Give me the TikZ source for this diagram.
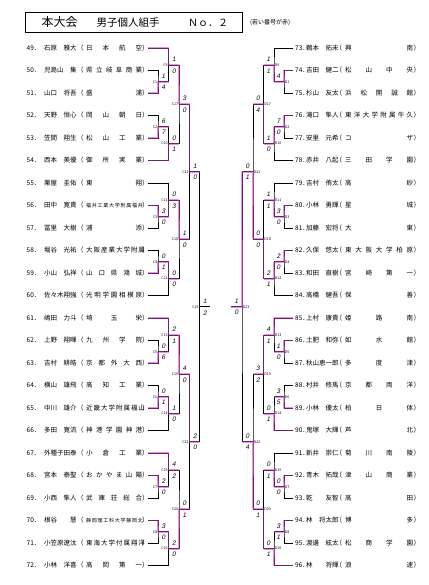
\documentclass[tikz,border=0pt]{standalone}
\usepackage{fontspec}
\setmainfont{Noto Sans CJK JP}
\newfontfamily\hwfont[FakeSlant=0.2]{Liberation Sans}
\usetikzlibrary{calc}
\definecolor{hlc}{RGB}{205,60,195}
\newcommand\rowfont{\fontsize{6.5}{7}\selectfont}
\newcommand\smallschool{\fontsize{5}{5}\selectfont}
\tikzset{
 ln/.style={line width=0.6pt, draw=black},
 hl/.style={line width=1.9pt, draw=hlc, draw opacity=0.55, line join=round},
 txt/.style={font=\rowfont, inner sep=0pt},
 sc/.style={font=\hwfont\fontsize{6.5}{7}\selectfont, inner sep=0pt},
 lb/.style={font=\fontsize{3.6}{4}\selectfont, inner sep=0pt},
}
\newcommand\LR[3]{%
 \pgfmathsetmacro\rowy{48+22.5*(#1-49)}
 \coordinate (P#1) at (148,\rowy);
 \node[txt,anchor=base west] (num#1) at (26.5,\rowy+2.4) {#1．};
 \node[txt,anchor=base west] (nm#1) at (44,\rowy+2.4) {#2};
 \node[txt,anchor=base west] (lp#1) at (77,\rowy+2.4) {（};
 \node[txt,anchor=base west] (sch#1) at (86,\rowy+2.4) {\makebox[56pt][s]{#3}};
 \node[txt,anchor=base west] (rp#1) at (142,\rowy+2.4) {）};
}
\newcommand\RR[3]{%
 \pgfmathsetmacro\rowy{48+22.5*(#1-73)}
 \coordinate (P#1) at (293,\rowy);
 \node[txt,anchor=base west] (num#1) at (295,\rowy+2.4) {#1．};
 \node[txt,anchor=base west] (nm#1) at (306,\rowy+2.4) {#2};
 \node[txt,anchor=base west] (lp#1) at (335.5,\rowy+2.4) {（};
 \node[txt,anchor=base west] (sch#1) at (345,\rowy+2.4) {\makebox[68pt][s]{#3}};
 \node[txt,anchor=base west] (rp#1) at (413.5,\rowy+2.4) {）};
}
\newcommand\LM[5]{%
 \draw[ln] (#2) -| (#1) |- (#3);
 \node[lb,anchor=east] (lab#1) at ($(#1)+(-0.6,0)$) {#1};
 \node[sc] (su#1) at ($(#1)+(5.5,-5.5)$) {#4};
 \node[sc] (sd#1) at ($(#1)+(5.5,6)$) {#5};
}
\newcommand\RM[5]{%
 \draw[ln] (#2) -| (#1) |- (#3);
 \node[lb,anchor=west] (lab#1) at ($(#1)+(0.6,0)$) {#1};
 \node[sc] (su#1) at ($(#1)+(-5.5,-5.5)$) {#4};
 \node[sc] (sd#1) at ($(#1)+(-5.5,6)$) {#5};
}
\newcommand\HLp[3]{\draw[hl] (#1) -| (#2) -- (#2 -| #3);}
\newcommand\HLm[3]{\draw[hl] (#2 |- #1) -- (#2) -- (#2 -| #3);}
\begin{document}
\begin{tikzpicture}[x=1pt,y=-1pt]
\useasboundingbox (0,0) rectangle (428,585);
% title
\node[draw, line width=1pt, minimum width=217pt, minimum height=20pt, inner sep=0pt, anchor=north west] (tbox) at (25,12) {};
\node[anchor=west, inner sep=0pt, font=\fontsize{12}{12}\selectfont] (t1) at (41.5,22.3) {本大会};
\node[anchor=west, inner sep=0pt, font=\fontsize{10.5}{11}\selectfont] (t2) at (96.5,22.3) {男子個人組手};
\node[anchor=west, inner sep=0pt, font=\fontsize{10}{10}\selectfont] (t3) at (188,22.5) {Ｎｏ．２};
\node[anchor=west, inner sep=0pt, font=\fontsize{6}{6}\selectfont] (note) at (250,23) {(若い番号が赤)};
% level x coordinates
\coordinate (XL2) at (168.5,0); \coordinate (XL3) at (179,0); \coordinate (XL4) at (189.5,0);
\coordinate (XL5) at (199.5,0); \coordinate (XL6) at (209.5,0);
\coordinate (XR2) at (274,0); \coordinate (XR3) at (263.5,0); \coordinate (XR4) at (253,0);
\coordinate (XR5) at (242,0); \coordinate (XR6) at (231,0);
% left players
\LR{49}{石原　雅大}{日 本 航 空}
\LR{50}{児島山　集}{県 立 岐 阜 商 業}
\LR{51}{山口　将吾}{盛 浦}
\LR{52}{天野　恒心}{岡 山 朝 日}
\LR{53}{笠間　翔生}{松 山 工 業}
\LR{54}{西本　美優}{御 所 実 業}
\LR{55}{栗屋　圭佑}{東 翔}
\LR{56}{田中　寛貴}{\smallschool 福 井 工 業 大 学 附 属 福 井}
\LR{57}{冨里　大樹}{浦 添}
\LR{58}{堀谷　光祐}{大 阪 産 業 大 学 附 属}
\LR{59}{小山　弘祥}{山 口 県 鴻 城}
\LR{60}{佐々木翔強}{光 明 学 園 相 模 原}
\LR{61}{嶋田　力斗}{埼 玉 栄}
\LR{62}{上野　翔暉}{九 州 学 院}
\LR{63}{吉村　耕皓}{京 都 外 大 西}
\LR{64}{横山　雄飛}{高 知 工 業}
\LR{65}{中川　雄介}{近 畿 大 学 附 属 福 山}
\LR{66}{多田　寛流}{神 港 学 園 神 港}
\LR{67}{外種子田泰}{小 倉 工 業}
\LR{68}{宮本　泰聖}{お か や ま 山 陽}
\LR{69}{小西　隼人}{武 庫 荘 総 合}
\LR{70}{根谷　　慧}{\smallschool 静 岡 理 工 科 大 学 静 岡 北}
\LR{71}{小笠原遼汰}{東 海 大 学 付 属 翔 洋}
\LR{72}{小林　洋喜}{高 岡 第 一}
% right players
\RR{73}{鵜本　拓未}{興 南}
\RR{74}{吉田　健二}{松 山 中 央}
\RR{75}{杉山　友太}{浜 松 開 誠 館}
\RR{76}{滝口　隼人}{東 洋 大 学 附 属 牛 久}
\RR{77}{安里　元希}{コ ザ}
\RR{78}{赤井　八起}{三 田 学 園}
\RR{79}{吉村　侑太}{高 砂}
\RR{80}{小林　勇輝}{星 城}
\RR{81}{加藤　宏将}{大 東}
\RR{82}{久保　悠太}{東 大 阪 大 学 柏 原}
\RR{83}{和田　直樹}{宮 崎 第 一}
\RR{84}{高橋　健吾}{保 善}
\RR{85}{上村　康貴}{姫 路 南}
\RR{86}{土肥　和弥}{如 水 館}
\RR{87}{秋山恵一郎}{多 度 津}
\RR{88}{村井　修馬}{京 都 両 洋}
\RR{89}{小林　優太}{柏 日 体}
\RR{90}{鬼塚　大輝}{芦 北}
\RR{91}{新井　崇仁}{菊 川 南 陵}
\RR{92}{青木　拓哉}{津 山 商 業}
\RR{93}{乾　　友智}{高 田}
\RR{94}{林　将太郎}{博 多}
\RR{95}{渡邊　絃太}{松 商 学 園}
\RR{96}{林　　将輝}{浪 速}
% left junctions
\coordinate (C1) at (158,81.75); \coordinate (C2) at (158,126.75);
\coordinate (C3) at (158,216.75); \coordinate (C4) at (158,261.75);
\coordinate (C5) at (158,351.75); \coordinate (C6) at (158,396.75);
\coordinate (C7) at (158,486.75); \coordinate (C8) at (158,531.75);
\coordinate (C9) at (168.5,64.875); \coordinate (C10) at (168.5,143.625);
\coordinate (C11) at (168.5,199.875); \coordinate (C12) at (168.5,278.625);
\coordinate (C13) at (168.5,334.875); \coordinate (C14) at (168.5,413.625);
\coordinate (C15) at (168.5,469.875); \coordinate (C16) at (168.5,548.625);
\coordinate (C17) at (179,104.25); \coordinate (C18) at (179,239.25);
\coordinate (C19) at (179,374.25); \coordinate (C20) at (179,509.25);
\coordinate (C21) at (189.5,171.75); \coordinate (C22) at (189.5,441.75);
\coordinate (C23) at (199.5,306.75); \coordinate (E1) at (209.5,306.75);
% right junctions
\coordinate (D1) at (284,81.75); \coordinate (D2) at (284,126.75);
\coordinate (D3) at (284,216.75); \coordinate (D4) at (284,261.75);
\coordinate (D5) at (284,351.75); \coordinate (D6) at (284,396.75);
\coordinate (D7) at (284,486.75); \coordinate (D8) at (284,531.75);
\coordinate (D9) at (274,64.875); \coordinate (D10) at (274,143.625);
\coordinate (D11) at (274,199.875); \coordinate (D12) at (274,278.625);
\coordinate (D13) at (274,334.875); \coordinate (D14) at (274,413.625);
\coordinate (D15) at (274,469.875); \coordinate (D16) at (274,548.625);
\coordinate (D17) at (263.5,104.25); \coordinate (D18) at (263.5,239.25);
\coordinate (D19) at (263.5,374.25); \coordinate (D20) at (263.5,509.25);
\coordinate (D21) at (253,171.75); \coordinate (D22) at (253,441.75);
\coordinate (D23) at (242,306.75); \coordinate (E2) at (231,306.75);
% left matches
\LM{C1}{P50}{P51}{1}{4}
\LM{C2}{P52}{P53}{6}{7}
\LM{C3}{P56}{P57}{3}{0}
\LM{C4}{P58}{P59}{0}{1}
\LM{C5}{P62}{P63}{0}{6}
\LM{C6}{P64}{P65}{0}{1}
\LM{C7}{P68}{P69}{2}{0}
\LM{C8}{P70}{P71}{3}{0}
\LM{C9}{P49}{C1}{1}{0}
\LM{C10}{C2}{P54}{0}{1}
\LM{C11}{P55}{C3}{0}{3}
\LM{C12}{C4}{P60}{0}{0}
\LM{C13}{P61}{C5}{2}{1}
\LM{C14}{C6}{P66}{1}{0}
\LM{C15}{P67}{C7}{4}{2}
\LM{C16}{C8}{P72}{2}{0}
\LM{C17}{C9}{C10}{3}{0}
\LM{C18}{C11}{C12}{1}{0}
\LM{C19}{C13}{C14}{4}{0}
\LM{C20}{C15}{C16}{0}{1}
\LM{C21}{C17}{C18}{1}{0}
\LM{C22}{C19}{C20}{2}{0}
\LM{C23}{C21}{C22}{1}{2}
\draw[ln] (C23) -- (E1);
% right matches
\RM{D1}{P74}{P75}{4}{}
\RM{D2}{P76}{P77}{7}{0}
\RM{D3}{P80}{P81}{3}{0}
\RM{D4}{P82}{P83}{2}{0}
\RM{D5}{P86}{P87}{1}{0}
\RM{D6}{P88}{P89}{3}{5}
\RM{D7}{P92}{P93}{0}{0}
\RM{D8}{P94}{P95}{3}{1}
\RM{D9}{P73}{D1}{1}{1}
\RM{D10}{D2}{P78}{1}{0}
\RM{D11}{P79}{D3}{1}{1}
\RM{D12}{D4}{P84}{2}{1}
\RM{D13}{P85}{D5}{4}{1}
\RM{D14}{D6}{P90}{0}{1}
\RM{D15}{P91}{D7}{0}{1}
\RM{D16}{D8}{P96}{0}{1}
\RM{D17}{D9}{D10}{0}{4}
\RM{D18}{D11}{D12}{0}{0}
\RM{D19}{D13}{D14}{3}{2}
\RM{D20}{D15}{D16}{0}{1}
\RM{D21}{D17}{D18}{0}{1}
\RM{D22}{D19}{D20}{0}{4}
\RM{D23}{D21}{D22}{1}{0}
\draw[ln] (D23) -- (E2);
% highlights (winner paths)
\HLp{P51}{C1}{XL2} \HLp{P53}{C2}{XL2} \HLp{P56}{C3}{XL2} \HLp{P59}{C4}{XL2}
\HLp{P63}{C5}{XL2} \HLp{P65}{C6}{XL2} \HLp{P68}{C7}{XL2} \HLp{P70}{C8}{XL2}
\HLp{P49}{C9}{XL3} \HLp{P54}{C10}{XL3} \HLm{C3}{C11}{XL3} \HLm{C4}{C12}{XL3}
\HLp{P61}{C13}{XL3} \HLm{C6}{C14}{XL3} \HLp{P67}{C15}{XL3} \HLm{C8}{C16}{XL3}
\HLm{C9}{C17}{XL4} \HLm{C11}{C18}{XL4} \HLm{C13}{C19}{XL4} \HLm{C16}{C20}{XL4}
\HLm{C17}{C21}{XL5} \HLm{C19}{C22}{XL5}
\HLp{P74}{D1}{XR2} \HLp{P76}{D2}{XR2} \HLp{P80}{D3}{XR2} \HLp{P82}{D4}{XR2}
\HLp{P86}{D5}{XR2} \HLp{P89}{D6}{XR2} \HLp{P92}{D7}{XR2} \HLp{P94}{D8}{XR2}
\HLm{D1}{D9}{XR3} \HLm{D2}{D10}{XR3} \HLm{D3}{D11}{XR3} \HLm{D4}{D12}{XR3}
\HLp{P85}{D13}{XR3} \HLp{P90}{D14}{XR3} \HLm{D7}{D15}{XR3} \HLp{P96}{D16}{XR3}
\HLm{D10}{D17}{XR4} \HLm{D12}{D18}{XR4} \HLm{D13}{D19}{XR4} \HLm{D16}{D20}{XR4}
\HLm{D18}{D21}{XR5} \HLm{D20}{D22}{XR5}
\HLm{D21}{D23}{XR6}
\end{tikzpicture}
\end{document}
